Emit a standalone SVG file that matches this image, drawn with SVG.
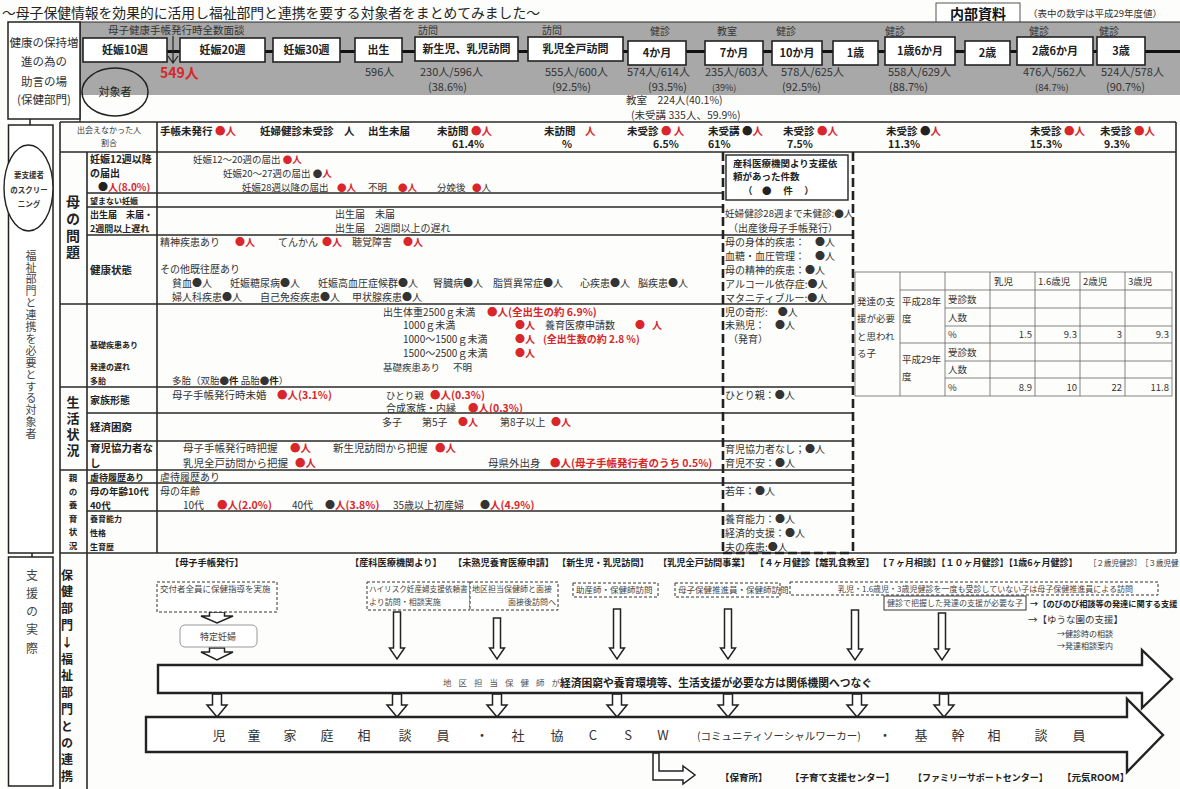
<svg xmlns="http://www.w3.org/2000/svg" width="1180" height="789" viewBox="0 0 1180 789">
<defs>
<style>
text{font-family:"Noto Sans CJK JP","Noto Sans",sans-serif;fill:#333;font-size:10px}
.b{font-weight:700}
.r{fill:#d9262b;font-weight:700}
.k{fill:#222}
.v{writing-mode:vertical-rl;text-orientation:upright}
.ln{stroke:#2a2a2a;stroke-width:1.6;fill:none}
.dash{stroke:#222;stroke-width:2.6;stroke-dasharray:9 4;fill:none}
.dbox{stroke:#333;stroke-width:1;stroke-dasharray:3 2;fill:#fff}
.node{fill:#fff;stroke:#222;stroke-width:1.6}
.nt{font-size:11px;font-weight:700;fill:#222;text-anchor:middle}
.tl{stroke:#666;stroke-width:0.8;fill:none}
.ha{fill:#fff;stroke:#222;stroke-width:1.5}
.big{fill:#fff;stroke:#222;stroke-width:2.4}
.c{text-anchor:middle}
.hd{font-size:9.2px;font-weight:700;fill:#222}
.sm{font-size:8.5px;fill:#444}
</style>
</defs>
<rect x="0" y="0" width="1180" height="789" fill="#fdfdfb"/>

<g id="title">
<text x="2" y="18" textLength="538" lengthAdjust="spacingAndGlyphs" style="font-size:13.5px;fill:#222">～母子保健情報を効果的に活用し福祉部門と連携を要する対象者をまとめてみました～</text>
</g>
<g id="internal-note">
<rect x="936" y="3" width="84" height="20" fill="#fff" stroke="#555" stroke-width="1"/>
<text x="978" y="19" class="b c" style="font-size:14px;fill:#111">内部資料</text>
<text x="1028" y="17" style="font-size:9.5px">（表中の数字は平成29年度値）</text>
</g>

<g id="band">
<rect x="80" y="22" width="1100" height="73" fill="#a8a8a8"/>
<path class="ln" d="M80,22 H1180 M80,22 V122" style="stroke-width:1.2"/>
<text x="108" y="34" style="font-size:10.5px">母子健康手帳発行時全数面談</text>
<text x="418" y="34">訪問</text>
<text x="542" y="34">訪問</text>
<text x="650" y="35">健診</text>
<text x="717" y="35">教室</text>
<text x="776" y="35">健診</text>
<text x="885" y="35">健診</text>
<text x="1029" y="35">健診</text>
<text x="1099" y="35">健診</text>
</g>

<g id="connectors">
<line x1="167" y1="51.5" x2="1180" y2="51.5" stroke="#111" stroke-width="3"/>
<path d="M173,36 V63 M168,56 L173,63 L178,56" stroke="#222" stroke-width="1.2" fill="none"/>
<path d="M30,119 V140 M25,133 L30,140 L35,133" stroke="#222" stroke-width="1.5" fill="none"/>
<path d="M32,553 V569 M27,562 L32,569 L37,562" stroke="#222" stroke-width="1.5" fill="none"/>
<path class="ha" d="M209.5,612 V616 H201 L217,623 L233,616 H224.5 V612 Z"/>
<path class="ha" d="M209.5,648 V652 H201 L217,660 L233,652 H224.5 V648 Z"/>
<path class="ha" d="M393.5,612 V648 H389.5 L397,659 L404.5,648 H400.5 V612 Z"/>
<path class="ha" d="M493.5,618 V648 H489.5 L497,659 L504.5,648 H500.5 V618 Z"/>
<path class="ha" d="M613.5,609 V648 H609.5 L617,659 L624.5,648 H620.5 V609 Z"/>
<path class="ha" d="M724.5,609 V648 H720.5 L728,659 L735.5,648 H731.5 V609 Z"/>
<path class="ha" d="M851.5,610 V649 H847.5 L855,660 L862.5,649 H858.5 V610 Z"/>
<path class="ha" d="M938.5,613 V649 H934.5 L942,660 L949.5,649 H945.5 V613 Z"/>
<path class="ha" d="M212.5,694 V705 H207 L217,717 L227,705 H221.5 V694 Z"/>
<path class="ha" d="M392.5,694 V705 H387 L397,717 L407,705 H401.5 V694 Z"/>
<path class="ha" d="M492.5,694 V705 H487 L497,717 L507,705 H501.5 V694 Z"/>
<path class="ha" d="M612.5,694 V705 H607 L617,717 L627,705 H621.5 V694 Z"/>
<path class="ha" d="M723.5,694 V705 H718 L728,717 L738,705 H732.5 V694 Z"/>
<path class="ha" d="M852.5,694 V705 H847 L857,717 L867,705 H861.5 V694 Z"/>
<path class="ha" d="M939.5,694 V705 H934 L944,717 L954,705 H948.5 V694 Z"/>
<path class="ha" d="M653,753 V780 H683 V784 L695,775 L683,766 V771 H659 V753 Z"/>
</g>

<g id="n-preg10"><rect class="node" x="83" y="38" width="84" height="24"/><text class="nt" x="125" y="54">妊娠10週</text></g>
<g id="n-preg20"><rect class="node" x="180" y="38" width="85" height="24"/><text class="nt" x="222.5" y="54">妊娠20週</text></g>
<g id="n-preg30"><rect class="node" x="273" y="38" width="67" height="24"/><text class="nt" x="306.5" y="54">妊娠30週</text></g>
<g id="n-birth"><rect class="node" x="355" y="38" width="47" height="24"/><text class="nt" x="378.5" y="54">出生</text></g>
<g id="n-newborn"><rect class="node" x="415" y="37" width="103" height="24"/><text class="nt" x="466.5" y="53">新生児、乳児訪問</text></g>
<g id="n-allvisit"><rect class="node" x="528" y="37" width="95" height="24"/><text class="nt" x="575.5" y="53">乳児全戸訪問</text></g>
<g id="n-4m"><rect class="node" x="628" y="41" width="58" height="24"/><text class="nt" x="657" y="57">4か月</text></g>
<g id="n-7m"><rect class="node" x="705" y="41" width="58" height="24"/><text class="nt" x="734" y="57">7か月</text></g>
<g id="n-10m"><rect class="node" x="772" y="41" width="50" height="24"/><text class="nt" x="797" y="57">10か月</text></g>
<g id="n-1y"><rect class="node" x="833" y="41" width="45" height="24"/><text class="nt" x="855.5" y="57">1歳</text></g>
<g id="n-1y6m"><rect class="node" x="885" y="37" width="70" height="28"/><text class="nt" x="920" y="55">1歳6か月</text></g>
<g id="n-2y"><rect class="node" x="965" y="41" width="45" height="24"/><text class="nt" x="987.5" y="57">2歳</text></g>
<g id="n-2y6m"><rect class="node" x="1017" y="37" width="76" height="28"/><text class="nt" x="1055" y="55">2歳6か月</text></g>
<g id="n-3y"><rect class="node" x="1097" y="37" width="48" height="28"/><text class="nt" x="1121" y="55">3歳</text></g>

<g id="counts">
<text x="160" y="78" class="r" style="font-size:14px">549人</text>
<text x="365" y="76" style="font-size:11px">596人</text>
<text x="420" y="76" style="font-size:11px">230人/596人</text>
<text x="545" y="76" style="font-size:11px">555人/600人</text>
<text x="627" y="76" style="font-size:11px">574人/614人</text>
<text x="705" y="76" style="font-size:11px">235人/603人</text>
<text x="781" y="76" style="font-size:11px">578人/625人</text>
<text x="888" y="76" style="font-size:11px">558人/629人</text>
<text x="1023" y="76" style="font-size:11px">476人/562人</text>
<text x="1101" y="76" style="font-size:11px">524人/578人</text>
<text x="428" y="91" style="font-size:11px">(38.6%)</text>
<text x="552" y="91" style="font-size:11px">(92.5%)</text>
<text x="648" y="91" style="font-size:11px">(93.5%)</text>
<text x="712" y="91" style="font-size:9px">(39%)</text>
<text x="782" y="91" style="font-size:11px">(92.5%)</text>
<text x="889" y="91" style="font-size:11px">(88.7%)</text>
<text x="1035" y="91" style="font-size:9.5px">(84.7%)</text>
<text x="1106" y="91" style="font-size:11px">(90.7%)</text>
<text x="626" y="104" style="font-size:10.5px">教室　224人(40.1%)</text>
<text x="631" y="119" style="font-size:10.5px">(未受講 335人、59.9%)</text>
</g>

<g id="target">
<ellipse cx="115" cy="92" rx="33" ry="24" fill="none" stroke="#222" stroke-width="1.5"/>
<text x="115" y="96" class="c" style="font-size:11px;fill:#222">対象者</text>
</g>

<g id="left-health">
<rect x="8" y="22" width="72" height="97" fill="#fff" stroke="#222" stroke-width="1.5"/>
<text x="44" y="47" class="c" style="font-size:11.5px">健康の保持増</text>
<text x="44" y="66" class="c" style="font-size:11.5px">進の為の</text>
<text x="44" y="86" class="c" style="font-size:11.5px">助言の場</text>
<text x="44" y="104" class="c" style="font-size:11.5px">(保健部門)</text>
</g>

<g id="left-target">
<rect x="8.5" y="125" width="44.5" height="428" fill="#fff" stroke="#222" stroke-width="1.5"/>
<ellipse cx="28.5" cy="188" rx="24.5" ry="43" fill="#fff" stroke="#222" stroke-width="1.4"/>
<text x="29" y="178" class="c b" style="font-size:7.5px">要支援者</text>
<text x="29" y="193" class="c b" style="font-size:7.5px">のスクリー</text>
<text x="29" y="207" class="c b" style="font-size:7.5px">ニング</text>
<text x="31" y="250" class="v" style="font-size:11px;letter-spacing:0.9px;fill:#444">福祉部門と連携を必要とする対象者</text>
</g>

<g id="left-support">
<rect x="8.5" y="557" width="44.5" height="229" fill="#fff" stroke="#222" stroke-width="1.5"/>
<text x="32" y="569" class="v" style="font-size:12px;letter-spacing:6.3px;fill:#444">支援の実際</text>
</g>

<g id="table-lines">
<path class="ln" d="M60,122 H1176 M60,152 H1176 M60,553 H1176 M60,122 V789 M87,152 V789 M157,122 V553 M1176,122 V553"/>
<path class="ln" d="M87,193 H723 M87,207 H723 M87,235 H853 M60,304 H853 M60,387 H853 M87,413 H853 M87,441 H853 M60,470 H853 M87,483 H853 M87,511 H853"/>
<path class="dash" d="M723,152 V553 M853,152 V553 M723,553 H853"/>
</g>

<g id="row-missed">
<text x="109" y="133" class="c" style="font-size:8px">出会えなかった人</text>
<text x="109" y="146" class="c" style="font-size:8px">割合</text>
<text x="160" y="135" class="b k" style="font-size:10.5px">手帳未発行 <tspan class="r">●人</tspan></text>
<text x="260" y="135" class="b k" style="font-size:10.5px">妊婦健診未受診　人</text>
<text x="368" y="135" class="b k" style="font-size:10.5px">出生未届</text>
<text x="437" y="135" class="b k" style="font-size:10.5px">未訪問 <tspan class="r">●人</tspan></text>
<text x="544" y="135" class="b k" style="font-size:10.5px">未訪問 <tspan class="r" x="585">人</tspan></text>
<text x="627" y="135" class="b k" style="font-size:10.5px">未受診 <tspan class="r">● 人</tspan></text>
<text x="708" y="135" class="b k" style="font-size:10.5px">未受講 ●<tspan class="r">人</tspan></text>
<text x="783" y="135" class="b k" style="font-size:10.5px">未受診 <tspan class="r">●人</tspan></text>
<text x="886" y="135" class="b k" style="font-size:10.5px">未受診 ●<tspan class="r">人</tspan></text>
<text x="1030" y="135" class="b k" style="font-size:10.5px">未受診 <tspan class="r">●人</tspan></text>
<text x="1100" y="135" class="b k" style="font-size:10.5px">未受診 <tspan class="r">●人</tspan></text>
<text x="452" y="148" class="b k" style="font-size:10.5px">61.4%</text>
<text x="562" y="148" class="b k" style="font-size:10.5px">%</text>
<text x="653" y="148" class="b k" style="font-size:10.5px">6.5%</text>
<text x="708" y="148" class="b k" style="font-size:10.5px">61%</text>
<text x="787" y="148" class="b k" style="font-size:10.5px">7.5%</text>
<text x="888" y="148" class="b k" style="font-size:10.5px">11.3%</text>
<text x="1030" y="148" class="b k" style="font-size:10.5px">15.3%</text>
<text x="1104" y="148" class="b k" style="font-size:10.5px">9.3%</text>
</g>

<g id="cat-mother">
<text x="73" y="195" class="v b k" style="font-size:14px;letter-spacing:2.7px">母の問題</text>
<text x="90" y="163" class="b k">妊娠12週以降</text>
<text x="90" y="177" class="b k">の届出</text>
<text x="98" y="191" class="b k">●<tspan class="r">人(8.0%)</tspan></text>
<text x="90" y="204" class="b k" style="font-size:8px">望まない妊娠</text>
<text x="90" y="218" class="b k" style="font-size:9px">出生届　未届・</text>
<text x="90" y="232" class="b k" style="font-size:9px">2週間以上遅れ</text>
<text x="90" y="274" class="b k" style="font-size:10.5px">健康状態</text>
<text x="193" y="163" style="font-size:9.5px">妊娠12～20週の届出 <tspan class="r">●人</tspan></text>
<text x="223" y="177" style="font-size:9.5px">妊娠20～27週の届出 ●<tspan class="r">人</tspan></text>
<text x="242" y="191" style="font-size:9.5px">妊娠28週以降の届出<tspan class="r" x="337">●人</tspan><tspan x="368">不明</tspan><tspan class="r" x="398">●人</tspan><tspan x="437">分娩後</tspan><tspan class="r" x="472">●</tspan>人</text>
<text x="335" y="218">出生届　未届</text>
<text x="335" y="232">出生届　2週間以上の遅れ</text>
<text x="160" y="246">精神疾患あり<tspan class="r" x="235">●人</tspan><tspan x="278">てんかん</tspan><tspan class="r" x="322">●人</tspan><tspan x="352">聴覚障害</tspan><tspan class="r" x="403">●人</tspan></text>
<text x="160" y="273">その他既往歴あり</text>
<text x="172" y="287">貧血●人<tspan x="230">妊娠糖尿病●人</tspan><tspan x="318">妊娠高血圧症候群●人</tspan><tspan x="433">腎臓病●人</tspan><tspan x="493">脂質異常症●人</tspan><tspan x="580">心疾患●人</tspan><tspan x="638">脳疾患●人</tspan></text>
<text x="172" y="301">婦人科疾患●人<tspan x="260">自己免疫疾患●人</tspan><tspan x="352">甲状腺疾患●人</tspan></text>
</g>

<g id="cat-child">
<text x="90" y="348" class="b k" style="font-size:8px">基礎疾患あり</text>
<text x="90" y="370" class="b k" style="font-size:8px">発達の遅れ</text>
<text x="90" y="384" class="b k" style="font-size:8px">多胎</text>
<text x="383" y="316">出生体重2500ｇ未満<tspan class="r" x="487" style="font-size:10.5px">●人(全出生の約 6.9%)</tspan></text>
<text x="403" y="329">1000ｇ未満<tspan class="r" x="515">●人</tspan><tspan x="545">養育医療申請数</tspan><tspan class="r" x="635">●</tspan><tspan class="r" x="652">人</tspan></text>
<text x="403" y="343">1000～1500ｇ未満<tspan class="r" x="515">●人</tspan><tspan class="r" x="543">(全出生数の約  2.8 %)</tspan></text>
<text x="403" y="357">1500～2500ｇ未満<tspan class="r" x="515">●人</tspan></text>
<text x="383" y="371" style="font-size:9.5px">基礎疾患あり<tspan x="453">不明</tspan></text>
<text x="172" y="384" style="font-size:9.5px">多胎（双胎●<tspan class="b k">件</tspan> 品胎●<tspan class="b k">件</tspan>）</text>
</g>

<g id="cat-life">
<text x="73" y="396" class="v b k" style="font-size:13px;letter-spacing:3px">生活状況</text>
<text x="90" y="404" class="b k">家族形態</text>
<text x="90" y="431" class="b k" style="font-size:10.5px">経済困窮</text>
<text x="90" y="452" class="b k" style="font-size:10.5px">育児協力者な</text>
<text x="90" y="467" class="b k" style="font-size:10.5px">し</text>
<text x="172" y="399" style="font-size:10.5px">母子手帳発行時未婚<tspan class="r" x="277">●人(3.1%)</tspan></text>
<text x="386" y="399" style="font-size:9.5px">ひとり親<tspan class="r" x="430" style="font-size:10.5px">●人(0.3%)</tspan></text>
<text x="386" y="412">合成家族・内縁<tspan class="r" x="468" style="font-size:10.5px">●人(0.3%)</tspan></text>
<text x="382" y="426">多子<tspan x="422">第5子</tspan><tspan class="r" x="458">●人</tspan><tspan x="500">第8子以上</tspan><tspan class="r" x="551">●人</tspan></text>
<text x="183" y="452" style="font-size:10.5px">母子手帳発行時把握<tspan class="r" x="290">●人</tspan><tspan x="333">新生児訪問から把握</tspan><tspan class="r" x="435">●人</tspan></text>
<text x="183" y="467" style="font-size:10.5px">乳児全戸訪問から把握<tspan class="r" x="295">●人</tspan><tspan x="488">母県外出身</tspan><tspan class="r" x="550">●人(母子手帳発行者のうち 0.5%)</tspan></text>
</g>

<g id="cat-parent">
<text x="73" y="474" class="v b k" style="font-size:8.5px;letter-spacing:5px">親の養育状況</text>
<text x="90" y="481" class="b k" style="font-size:9px">虐待履歴あり</text>
<text x="90" y="495" class="b k" style="font-size:9.5px">母の年齢10代</text>
<text x="90" y="509" class="b k" style="font-size:9.5px">40代</text>
<text x="90" y="522" class="b k" style="font-size:8px">養育能力</text>
<text x="90" y="536" class="b k" style="font-size:8px">性格</text>
<text x="90" y="550" class="b k" style="font-size:8px">生育歴</text>
<text x="160" y="481">虐待履歴あり</text>
<text x="160" y="495">母の年齢</text>
<text x="183" y="509">10代<tspan class="r" x="217" style="font-size:10.5px">●人(2.0%)</tspan><tspan x="292">40代</tspan><tspan x="325">●</tspan><tspan class="r" style="font-size:10.5px">人(3.8%)</tspan><tspan x="393">35歳以上初産婦</tspan><tspan x="480">●</tspan><tspan class="r" style="font-size:10.5px">人(4.9%)</tspan></text>
</g>

<g id="dashed-column">
<rect x="726" y="155" width="122" height="45" fill="#fff" stroke="#222" stroke-width="1.4"/>
<text x="733" y="167" class="b k" style="font-size:9.5px">産科医療機関より支援依</text>
<text x="733" y="180" class="b k" style="font-size:9.5px">頼があった件数</text>
<text x="743" y="194" class="b k" style="font-size:9.5px">（　●　 件　 ）</text>
<text x="725" y="217" style="font-size:9.6px">妊婦健診28週まで未健診:●人</text>
<text x="728" y="232">（出産後母子手帳発行）</text>
<text x="725" y="246">母の身体的疾患：　●人</text>
<text x="725" y="260">血糖・血圧管理：　●人</text>
<text x="725" y="274">母の精神的疾患：●人</text>
<text x="725" y="288">アルコール依存症:●人</text>
<text x="725" y="302">マタニティブルー:●人</text>
<text x="725" y="316">児の奇形:　●人</text>
<text x="725" y="329">未熟児：　●人</text>
<text x="728" y="343">（発育）</text>
<text x="725" y="399">ひとり親：●人</text>
<text x="725" y="453">育児協力者なし；●人</text>
<text x="725" y="467">育児不安：●人</text>
<text x="725" y="495">若年：●人</text>
<text x="725" y="523">養育能力：●人</text>
<text x="725" y="537">経済的支援：●人</text>
<text x="725" y="551">夫の疾患:●人</text>
</g>

<g id="dev-table">
<rect x="855" y="272" width="317" height="124" fill="#fff" class="tl"/>
<path class="tl" d="M900,272 V396 M945,272 V396 M990,272 V396 M1035,272 V396 M1080,272 V396 M1125,272 V396 M900,290 H1172 M945,308 H1172 M945,326 H1172 M900,343 H1172 M945,361 H1172 M945,378 H1172"/>
<text x="994" y="285" style="font-size:9.5px">乳児</text>
<text x="1038" y="285" style="font-size:9.5px">1.6歳児</text>
<text x="1083" y="285" style="font-size:9.5px">2歳児</text>
<text x="1128" y="285" style="font-size:9.5px">3歳児</text>
<text x="857" y="305" style="font-size:9.5px">発達の支</text>
<text x="857" y="322" style="font-size:9.5px">援が必要</text>
<text x="857" y="340" style="font-size:9.5px">と思われ</text>
<text x="857" y="357" style="font-size:9.5px">る子</text>
<text x="902" y="305" style="font-size:9.5px">平成28年</text>
<text x="902" y="322" style="font-size:9.5px">度</text>
<text x="902" y="363" style="font-size:9.5px">平成29年</text>
<text x="902" y="380" style="font-size:9.5px">度</text>
<text x="948" y="303" style="font-size:9.5px">受診数</text>
<text x="948" y="321" style="font-size:9.5px">人数</text>
<text x="948" y="338" style="font-size:9.5px">%</text>
<text x="948" y="356" style="font-size:9.5px">受診数</text>
<text x="948" y="373" style="font-size:9.5px">人数</text>
<text x="948" y="391" style="font-size:9.5px">%</text>
<text x="1032" y="338" text-anchor="end" style="font-size:9.5px">1.5</text>
<text x="1077" y="338" text-anchor="end" style="font-size:9.5px">9.3</text>
<text x="1122" y="338" text-anchor="end" style="font-size:9.5px">3</text>
<text x="1169" y="338" text-anchor="end" style="font-size:9.5px">9.3</text>
<text x="1032" y="391" text-anchor="end" style="font-size:9.5px">8.9</text>
<text x="1077" y="391" text-anchor="end" style="font-size:9.5px">10</text>
<text x="1122" y="391" text-anchor="end" style="font-size:9.5px">22</text>
<text x="1169" y="391" text-anchor="end" style="font-size:9.5px">11.8</text>
</g>

<g id="cat-link">
<text x="67" y="569" class="v b k" style="font-size:12px;letter-spacing:4.8px">保健部門↓福祉部門との連携</text>
</g>

<g id="support-headers">
<text x="170" y="566" class="hd">【母子手帳発行】</text>
<text x="350" y="566" class="hd">【産科医療機関より】</text>
<text x="453" y="566" class="hd">【未熟児養育医療申請】</text>
<text x="557" y="566" class="hd">【新生児・乳児訪問】</text>
<text x="658" y="566" class="hd">【乳児全戸訪問事業】</text>
<text x="755" y="566" class="hd">【４ヶ月健診【離乳食教室】</text>
<text x="878" y="566" class="hd" style="font-size:9px">【７ヶ月相談】【１０ヶ月健診】【1歳6ヶ月健診】</text>
<text x="1089" y="566" style="font-size:7.5px;fill:#333">［２歳児健診］</text>
<text x="1141" y="566" style="font-size:7.5px;fill:#333">［３歳児健</text>
</g>

<g id="box-issue"><rect class="dbox" x="157" y="582" width="120" height="30"/><text x="160" y="592" class="sm">交付者全員に保健指導を実施</text></g>
<g id="box-tokutei"><rect x="180" y="625" width="77" height="22" rx="5" fill="#fff" stroke="#999" stroke-width="1"/><text x="218" y="640" class="sm c" style="font-size:9px">特定妊婦</text></g>
<g id="box-highrisk"><rect class="dbox" x="367" y="582" width="103" height="28"/><text x="369" y="592" class="sm" style="font-size:7.6px">ハイリスク妊産婦支援依頼書</text><text x="369" y="605" class="sm" style="font-size:8px">より訪問・相談実施</text></g>
<g id="box-interview"><rect class="dbox" x="470" y="582" width="88" height="28"/><text x="472" y="592" class="sm" style="font-size:8px">地区担当保健師と面接</text><text x="556" y="605" class="sm" text-anchor="end" style="font-size:8px">面接後訪問へ</text></g>
<g id="box-midwife"><rect class="dbox" x="573" y="583" width="85" height="14"/><text x="576" y="593" class="sm">助産師・保健師訪問</text></g>
<g id="box-promoter"><rect class="dbox" x="675" y="583" width="105" height="14"/><text x="678" y="593" class="sm">母子保健推進員・保健師訪問</text></g>
<g id="box-unchecked"><rect class="dbox" x="790" y="582" width="368" height="13"/><text x="838" y="592" class="sm" style="font-size:8px">乳児・1.6歳児・3歳児健診を一度も受診していない子は母子保健推進員による訪問</text></g>
<g id="box-devchild"><rect x="884" y="596" width="142" height="14" fill="#fff" stroke="#333" stroke-width="1"/><text x="887" y="606" class="sm" style="font-size:8px">健診で把握した発達の支援が必要な子</text></g>
<g id="dev-support">
<text x="1030" y="607" class="b k" style="font-size:8.2px">→【のびのび相談等の発達に関する支援</text>
<text x="1028" y="623" style="font-size:9.5px">→【ゆうな園の支援】</text>
<text x="1057" y="637" style="font-size:8px">→健診時の相談</text>
<text x="1057" y="649" style="font-size:8px">→発達相談案内</text>
</g>

<g id="arrow-nurse">
<path class="big" d="M158,665 H1142 V650 L1172,679 L1142,708 V693 H158 Z"/>
<text x="443" y="686" style="font-size:8.5px;letter-spacing:7px;fill:#555">地区担当保健師が</text>
<text x="560" y="687" class="b k" style="font-size:11px" textLength="312" lengthAdjust="spacingAndGlyphs">経済困窮や養育環境等、生活支援が必要な方は関係機関へつなぐ</text>
</g>

<g id="arrow-welfare">
<path class="big" d="M146,717 H1127 V699 L1163,735 L1127,772 V752 H146 Z"/>
<text class="c" style="font-size:13px;fill:#333"><tspan x="219" y="740">児</tspan><tspan x="254" y="740">童</tspan><tspan x="290" y="740">家</tspan><tspan x="327" y="740">庭</tspan><tspan x="364" y="740">相</tspan><tspan x="405" y="740">談</tspan><tspan x="443" y="740">員</tspan><tspan x="482" y="740">・</tspan><tspan x="518" y="740">社</tspan><tspan x="557" y="740">協</tspan><tspan x="593" y="740">C</tspan><tspan x="628" y="740">S</tspan><tspan x="663" y="740">W</tspan></text>
<text x="697" y="740" style="font-size:10.5px;fill:#333">(コミュニティソーシャルワーカー)</text>
<text class="c" style="font-size:13px;fill:#333"><tspan x="885" y="740">・</tspan><tspan x="921" y="740">基</tspan><tspan x="958" y="740">幹</tspan><tspan x="994" y="740">相</tspan><tspan x="1041" y="740">談</tspan><tspan x="1079" y="740">員</tspan></text>
</g>

<g id="agencies">
<text x="720" y="781" class="hd" style="font-size:9.5px">【保育所】</text>
<text x="790" y="781" class="hd" style="font-size:9.5px">【子育て支援センター】</text>
<text x="913" y="781" class="hd" style="font-size:9px">【ファミリーサポートセンター】</text>
<text x="1062" y="781" class="hd" style="font-size:9.5px">【元気ROOM】</text>
</g>
</svg>
